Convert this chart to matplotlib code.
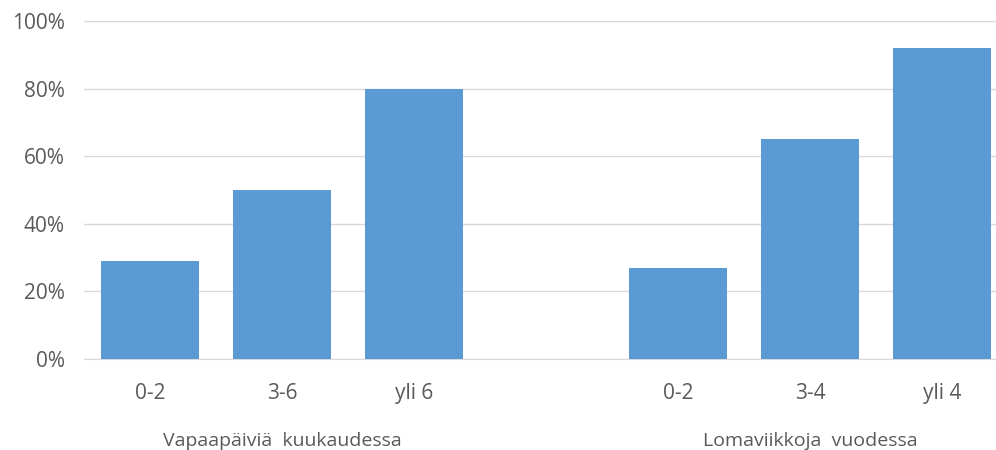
import matplotlib
matplotlib.use("Agg")
import matplotlib.pyplot as plt
from matplotlib.ticker import PercentFormatter

plt.rcParams['font.family'] = ['Open Sans', 'DejaVu Sans']

categories = ["0-2", "3-6", "yli 6", "", "0-2", "3-4", "yli 4"]
values = [29, 50, 80, None, 27, 65, 92]
groups = ["Vapaapäiviä  kuukaudessa", "Lomaviikkoja  vuodessa"]
yticks = [0, 20, 40, 60, 80, 100]

W, H = 996, 450
fig = plt.figure(figsize=(W / 100, H / 100), dpi=100)
left, right = 84, 1008
bottom, top = 359, 21
ax = fig.add_axes([left / W, 1 - bottom / H, (right - left) / W, (bottom - top) / H])

xs = [i for i, v in enumerate(values) if v is not None]
vs = [v for v in values if v is not None]
ax.bar(xs, vs, width=0.74, color="#5B9BD5", zorder=3)

ax.set_xlim(-0.5, len(categories) - 0.5)
ax.set_ylim(0, 100)
ax.set_yticks(yticks)
ax.yaxis.set_major_formatter(PercentFormatter(decimals=0))
ax.set_xticks(range(len(categories)))
ax.set_xticklabels(categories)
ax.grid(axis="y", color="#D9D9D9", linewidth=1, zorder=0)
for s in ["top", "right", "left"]:
    ax.spines[s].set_visible(False)
ax.spines["bottom"].set_color("#D9D9D9")
ax.tick_params(axis="both", length=0, labelsize=15, colors="#595959")
ax.tick_params(axis="x", pad=17)
ax.tick_params(axis="y", pad=14)

# group labels
for gx, g in zip([1, 5], groups):
    ax.text(gx, -0.215, g, transform=ax.get_xaxis_transform(), ha="center", va="top",
            fontsize=14, color="#595959")

fig.savefig("out.png", dpi=100)
